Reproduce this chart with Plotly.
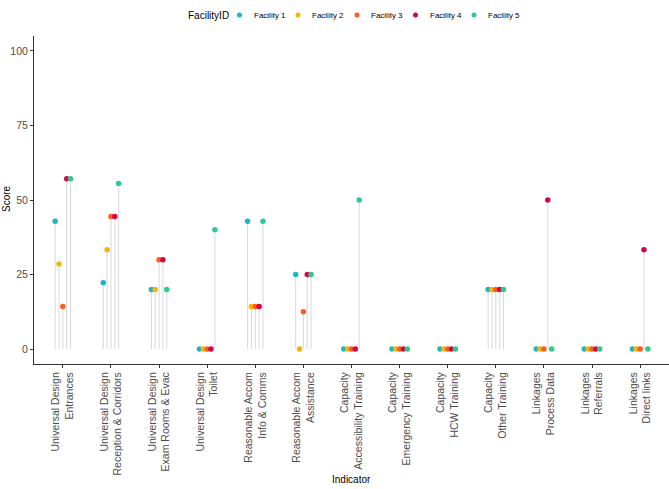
import plotly.graph_objects as go

categories = [
    "Universal Design<br>Entrances",
    "Universal Design<br>Reception & Corridors",
    "Universal Design<br>Exam Rooms & Evac",
    "Universal Design<br>Toilet",
    "Reasonable Accom<br>Info & Comms",
    "Reasonable Accom<br>Assistance",
    "Capacity<br>Accessibility Training",
    "Capacity<br>Emergency Training",
    "Capacity<br>HCW Training",
    "Capacity<br>Other Training",
    "Linkages<br>Process Data",
    "Linkages<br>Referrals",
    "Linkages<br>Direct links",
]

facilities = ["Facility 1", "Facility 2", "Facility 3", "Facility 4", "Facility 5"]

facility1 = [42.86, 22.22, 20.0, 0, 42.86, 25.0, 0, 0, 0, 20.0, 0, 0, 0]
facility2 = [28.57, 33.33, 20.0, 0, 14.29, 0, 0, 0, 0, 20.0, 0, 0, 0]
facility3 = [14.29, 44.44, 30.0, 0, 14.29, 12.5, 0, 0, 0, 20.0, 0, 0, 0]
facility4 = [57.14, 44.44, 30.0, 0, 14.29, 25.0, 0, 0, 0, 20.0, 50.0, 0, 33.33]
facility5 = [57.14, 55.56, 20.0, 40.0, 42.86, 25.0, 50.0, 0, 0, 20.0, 0, 0, 0]

series = [facility1, facility2, facility3, facility4, facility5]
colors = ["#1CB5C6", "#F2B705", "#FF5A1F", "#D0084A", "#2CCB8C"]

W, H = 669, 489
ML, MR, MT, MB = 34, 0, 36, 125
PW, PH = W - ML - MR, H - MT - MB

dodge_width = 0.4
n = len(facilities)
step = dodge_width / n

fig = go.Figure()

# segments
for i, vals in enumerate(series):
    off = -dodge_width / 2 + step * (i + 0.5)
    xs, ys = [], []
    for j, v in enumerate(vals):
        xs += [j + off, j + off, None]
        ys += [0, v, None]
    fig.add_trace(go.Scatter(x=xs, y=ys, mode="lines",
                             line=dict(color="#D9D9D9", width=1),
                             showlegend=False, hoverinfo="skip"))

# points
for i, vals in enumerate(series):
    off = -dodge_width / 2 + step * (i + 0.5)
    fig.add_trace(go.Scatter(
        x=[j + off for j in range(len(vals))], y=vals, mode="markers",
        name=facilities[i], showlegend=False,
        marker=dict(color=colors[i], size=5.5, line=dict(width=0)),
    ))


def px_x(p):
    return (p - ML) / PW


def px_y(p):
    return (H - MB - p) / PH


annotations = []
shapes = []
# legend (built from the facility names and colours)
leg_y = 15
annotations.append(dict(text="FacilityID", x=px_x(186), y=px_y(leg_y), xref="paper", yref="paper",
                        xanchor="left", yanchor="middle", showarrow=False,
                        font=dict(size=10, color="#000000")))
dot_x = [239.5, 298, 357, 415.5, 474]
for i, name in enumerate(facilities):
    shapes.append(dict(type="circle", xref="paper", yref="paper",
                       xsizemode="pixel", ysizemode="pixel",
                       xanchor=px_x(dot_x[i]), yanchor=px_y(leg_y),
                       x0=-2.5, x1=2.5, y0=-2.5, y1=2.5,
                       fillcolor=colors[i], line=dict(width=0)))
    annotations.append(dict(text=name, x=px_x(dot_x[i] + 12), y=px_y(leg_y),
                            xref="paper", yref="paper", xanchor="left", yanchor="middle",
                            showarrow=False, font=dict(size=8, color="#000000")))

# axis titles
annotations.append(dict(text="Indicator", x=0.5, y=px_y(479), xref="paper", yref="paper",
                        xanchor="center", yanchor="middle", showarrow=False,
                        font=dict(size=10, color="#000000")))
annotations.append(dict(text="Score", x=px_x(6), y=px_y(199), xref="paper", yref="paper",
                        xanchor="center", yanchor="middle", showarrow=False, textangle=-90,
                        font=dict(size=10, color="#000000")))

fig.update_layout(
    width=W, height=H,
    margin=dict(l=ML, r=MR, t=MT, b=MB, autoexpand=False),
    paper_bgcolor="white", plot_bgcolor="white",
    font=dict(family="Liberation Sans, Arial, sans-serif", color="#000000"),
    showlegend=False,
    annotations=annotations,
    shapes=shapes,
    xaxis=dict(
        range=[-0.6, 12.6], automargin=False,
        tickmode="array", tickvals=list(range(len(categories))), ticktext=categories,
        tickangle=-90, tickfont=dict(size=10.5, color="#4D4D4D"),
        showgrid=False, zeroline=False,
        showline=True, linecolor="#333333", linewidth=1,
        ticks="outside", ticklen=3, tickcolor="#333333",
    ),
    yaxis=dict(
        range=[-5, 105], automargin=False,
        tickvals=[0, 25, 50, 75, 100],
        tickfont=dict(size=10.5, color="#4D4D4D"),
        showgrid=False, zeroline=False,
        showline=True, linecolor="#333333", linewidth=1,
        ticks="outside", ticklen=3, tickcolor="#333333",
    ),
)

fig.write_html("out.html", config={"displayModeBar": False},
               post_script="document.body.style.margin='0';")
